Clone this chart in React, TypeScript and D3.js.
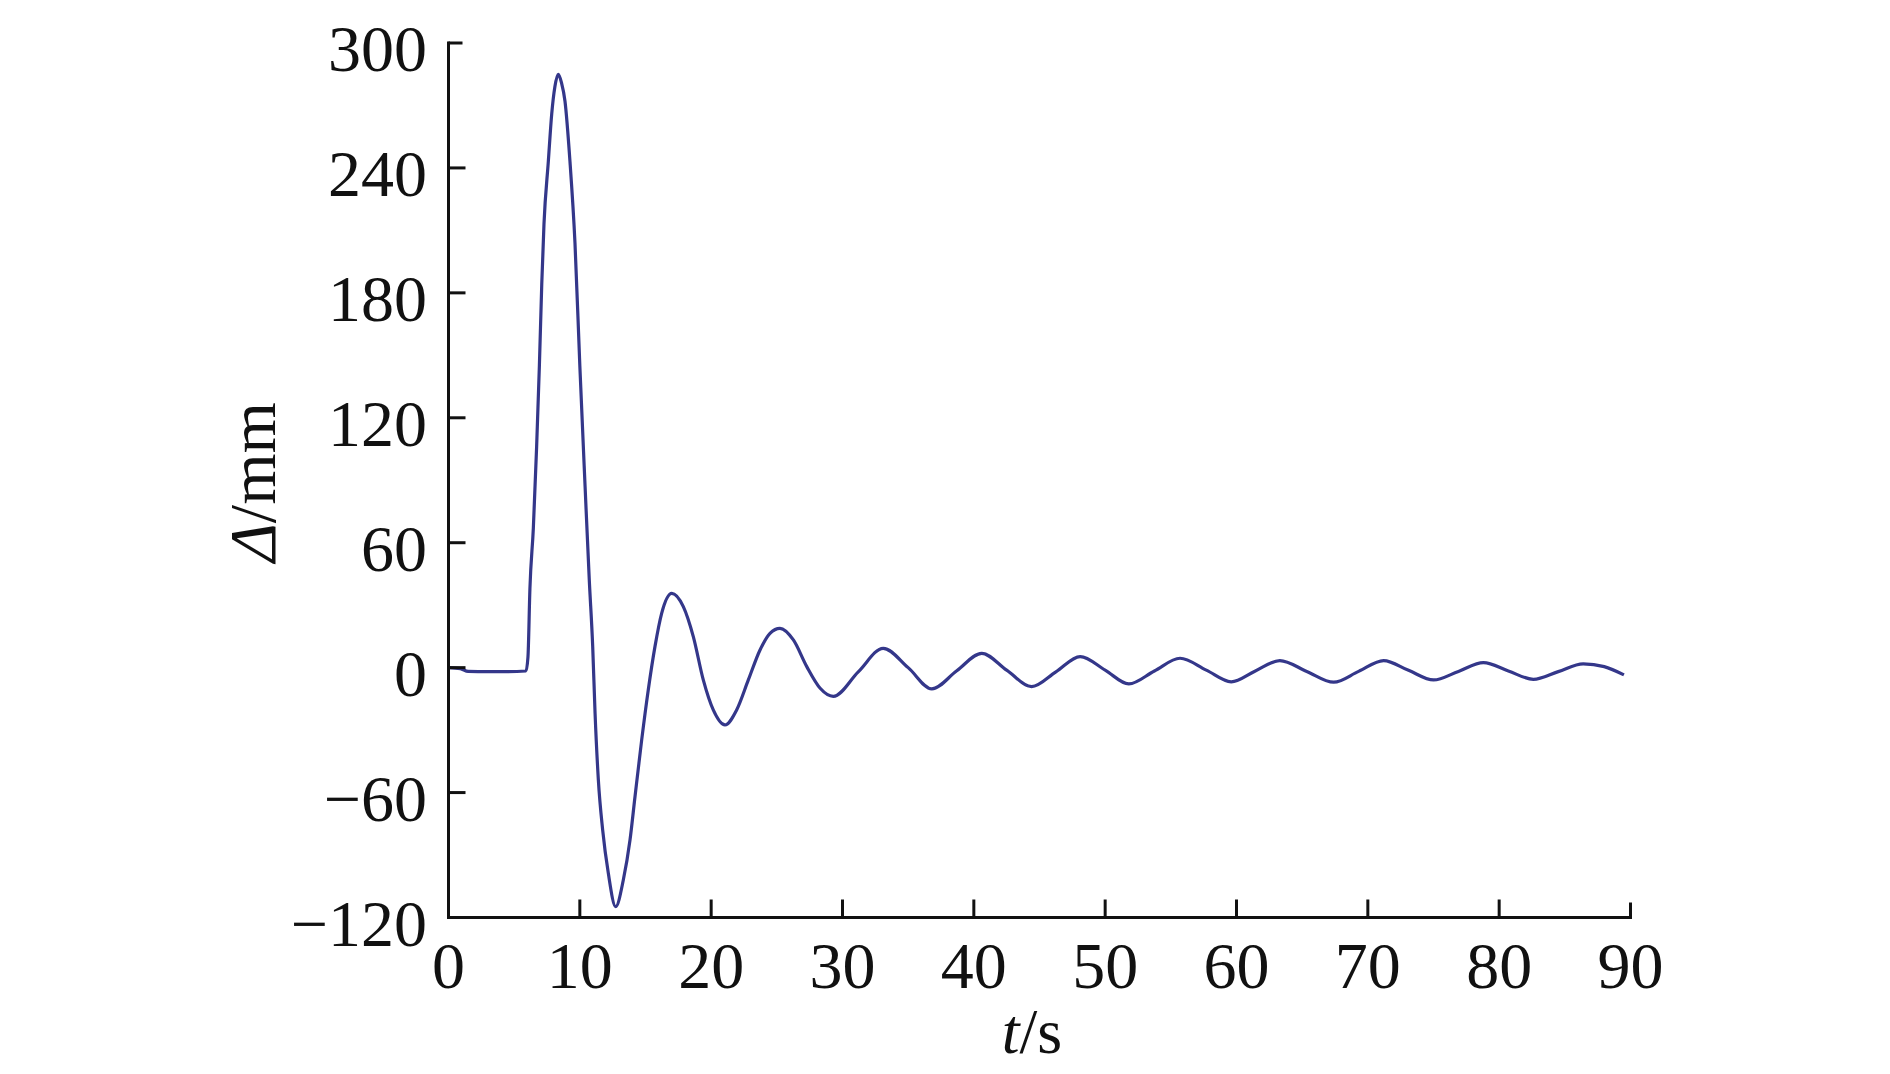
import React from "react";
import * as d3 from "d3";

const timeValues = [
  0, 0.9, 1.5, 3, 4.5, 5.9, 6.05, 6.2, 6.46, 6.71, 6.92, 7.1, 7.27, 7.6, 7.86, 8.1, 8.36, 8.6, 8.87,
  9.25, 9.63, 10.0, 10.4, 10.72, 10.98, 11.16, 11.41, 11.74, 12.17, 12.73, 13.31, 13.82, 14.2,
  14.71, 15.21, 15.72, 16.23, 17.0, 17.88, 18.64, 19.4, 20.16, 21.05, 21.94, 22.83, 23.72, 24.48,
  25.24, 26.26, 27.28, 28.3, 29.3, 31.2, 33.1, 35.0, 36.8, 38.7, 40.6, 42.5, 44.4, 46.25, 48.1,
  50.0, 51.8, 53.75, 55.7, 57.7, 59.6, 61.4, 63.3, 65.35, 67.4, 69.3, 71.2, 73.1, 75.0, 76.9, 78.8,
  80.7, 82.6, 84.5, 86.4, 88.0, 89.5,
];
const dispValues = [
  0, -0.5, -1.8, -1.9, -1.9, -1.6, 5, 38, 67, 106, 145, 184, 213, 243, 266, 279, 285, 281, 272,
  243, 204, 145, 87, 42, 10.1, -21.9, -53.9, -78, -98.8, -114.8, -102, -82.8, -62,
  -34.7, -10.7, 10.1, 26.1, 35.7, 29.3, 14.9, -5.9, -20.3, -27.5, -20.3, -5.9, 8.5, 16.5,
  18.9, 13.3, 0.5, -9.9, -13.8, -2, 9.3, 0, -10.2, -1.5, 6.9, -1.2, -9.1, -2, 5.3,
  -1.2, -7.8, -1.6, 4.5, -1.2, -6.8, -1.7, 3.4, -1.8, -7.0, -1.8, 3.4, -1.3, -5.9, -1.8, 2.4,
  -1.6, -5.6, -1.9, 1.8, 0.5, -3.5,
];
const xTicks = [0, 10, 20, 30, 40, 50, 60, 70, 80, 90];
const yTicks = [300, 240, 180, 120, 60, 0, -60, -120];

const W = 1890;
const H = 1074;
const FONT = "'Liberation Serif', 'Times New Roman', serif";

export default function App() {
  const x = d3.scaleLinear().domain([0, 90]).range([448.5, 1630.5]);
  const y = d3.scaleLinear().domain([-120, 300]).range([917.5, 43]);
  const pts: [number, number][] = timeValues.map((t, i) => [t, dispValues[i]]);
  const line = d3
    .line<[number, number]>()
    .x((d) => x(d[0]))
    .y((d) => y(d[1]))
    .curve(d3.curveMonotoneX);
  const fmt = (v: number) => (v < 0 ? "\u2212" + Math.abs(v) : String(v));

  return (
    <svg
      width={W}
      height={H}
      style={{ position: "absolute", left: 0, top: 0, background: "#fff" }}
    >
      <rect x={0} y={0} width={W} height={H} fill="#fff" />
      <path d={line(pts) || ""} fill="none" stroke="#34378a" strokeWidth={3.2} strokeLinejoin="round" />
      <line x1={x(0)} x2={x(0)} y1={y(300) - 1.5} y2={y(-120) + 1.5} stroke="#111" strokeWidth={3} />
      <line x1={x(0) - 1.5} x2={x(90) + 1.5} y1={y(-120)} y2={y(-120)} stroke="#111" strokeWidth={3} />
      {yTicks
        .filter((v) => v !== -120)
        .map((v) => (
          <line
            key={"yt" + v}
            x1={x(0)}
            x2={x(0) + (v === 300 ? 14 : 17)}
            y1={y(v)}
            y2={y(v)}
            stroke="#111"
            strokeWidth={3}
          />
        ))}
      {xTicks
        .filter((v) => v !== 0)
        .map((v) => (
          <line
            key={"xt" + v}
            x1={x(v)}
            x2={x(v)}
            y1={y(-120)}
            y2={y(-120) - (v === 90 ? 15 : 18)}
            stroke="#111"
            strokeWidth={3}
          />
        ))}
      {yTicks.map((v) => (
        <text
          key={"yl" + v}
          x={427}
          y={y(v) + 28}
          textAnchor="end"
          fontFamily={FONT}
          fontSize={66}
          fill="#111"
        >
          {fmt(v)}
        </text>
      ))}
      {xTicks.map((v) => (
        <text
          key={"xl" + v}
          x={x(v)}
          y={988}
          textAnchor="middle"
          fontFamily={FONT}
          fontSize={66}
          fill="#111"
        >
          {fmt(v)}
        </text>
      ))}
      <text x={1032} y={1053} textAnchor="middle" fontFamily={FONT} fontSize={64} fill="#111">
        <tspan fontStyle="italic">t</tspan>
        <tspan>/s</tspan>
      </text>
      <text
        transform={`translate(275, 482) rotate(-90)`}
        textAnchor="middle"
        fontFamily={FONT}
        fontSize={66}
        fill="#111"
      >
        <tspan fontStyle="italic">Δ</tspan>
        <tspan>/mm</tspan>
      </text>
    </svg>
  );
}
